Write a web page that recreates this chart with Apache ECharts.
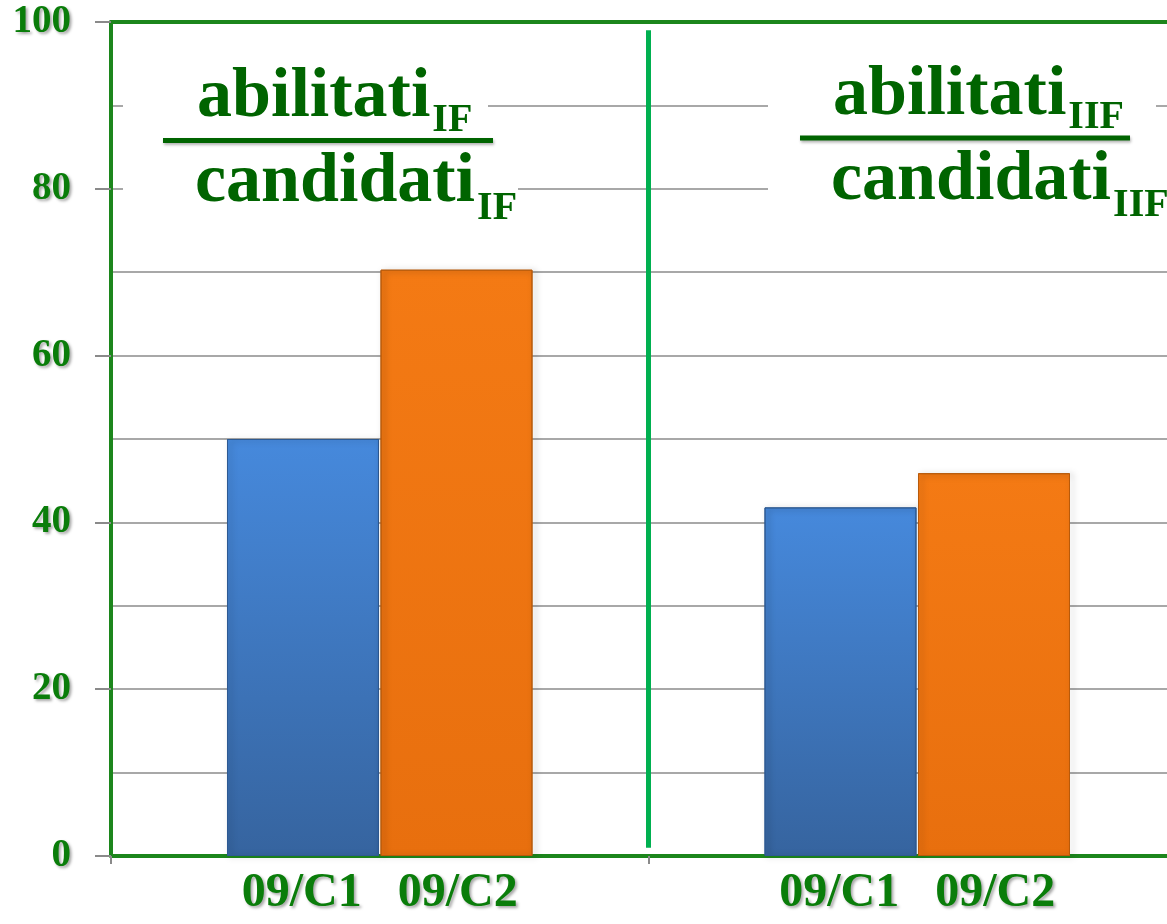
<!DOCTYPE html>
<html>
<head>
<meta charset="utf-8">
<script src="https://cdn.jsdelivr.net/npm/echarts@6/dist/echarts.min.js"></script>
<style>
html,body{margin:0;padding:0;background:#fff;overflow:hidden;width:1167px;height:924px;}
#chart{width:1188px;height:924px;}
</style>
</head>
<body>
<div id="chart"></div>
<script>
// ---- data ----
const categories = ['IF', 'IIF'];
const seriesNames = ['09/C1', '09/C2'];
const c1Values = [50, 41.8];
const c2Values = [70.3, 45.9];
const xTickLabels = ['09/C1   09/C2', '09/C1   09/C2'];
const yTickValues = [0, 20, 40, 60, 80, 100];
const numerators = ['abilitati', 'abilitati'];
const denominators = ['candidati', 'candidati'];
const subscripts = ['IF', 'IIF'];

const chart = echarts.init(document.getElementById('chart'), null, {renderer: 'canvas'});

const labelGreen = '#0a7d0a';
const titleGreen = '#006400';
const frameGreen = '#1c861c';
const shadowText = {textShadowColor: 'rgba(0,0,0,0.35)', textShadowBlur: 3, textShadowOffsetX: 2, textShadowOffsetY: 2};

function barStyle(top, bottom, border) {
  return {
    color: new echarts.graphic.LinearGradient(0, 0, 0, 1, [
      {offset: 0, color: top}, {offset: 1, color: bottom}
    ]),
    borderColor: border, borderWidth: 1,
    shadowColor: 'rgba(0,0,0,0.35)', shadowBlur: 6, shadowOffsetX: 3, shadowOffsetY: 1
  };
}

const option = {
  animation: false,
  backgroundColor: '#ffffff',
  grid: {left: 111, top: 22, right: 2, bottom: 68, containLabel: false},
  xAxis: [{
    type: 'category',
    data: categories,
    boundaryGap: true,
    axisLine: {show: true, lineStyle: {color: frameGreen, width: 4}},
    axisTick: {show: true, length: 8, lineStyle: {color: '#8a8a8a', width: 2}},
    axisLabel: {
      formatter: (v, i) => xTickLabels[i],
      color: labelGreen, fontFamily: '"Liberation Serif", serif', fontWeight: 'bold', fontSize: 48,
      margin: 14, ...shadowText
    },
    splitLine: {show: false}
  }, {
    type: 'category',
    data: categories,
    position: 'top',
    axisLine: {show: true, lineStyle: {color: frameGreen, width: 4}},
    axisTick: {show: false},
    axisLabel: {show: false},
    splitLine: {show: false}
  }],
  yAxis: {
    type: 'value',
    min: 0, max: 100, interval: 20,
    axisLine: {show: true, lineStyle: {color: frameGreen, width: 4}},
    axisTick: {show: true, length: 16, lineStyle: {color: '#8a8a8a', width: 2}},
    axisLabel: {
      formatter: v => (yTickValues.indexOf(v) >= 0 ? String(v) : ''),
      color: labelGreen, fontFamily: '"Liberation Serif", serif', fontWeight: 'bold', fontSize: 39,
      margin: 40, ...shadowText
    },
    splitLine: {show: true, showMinLine: false, showMaxLine: false, lineStyle: {color: '#a8a8a8', width: 2}},
    minorTick: {show: false, splitNumber: 2},
    minorSplitLine: {show: true, lineStyle: {color: '#a8a8a8', width: 2}}
  },
  series: [{
    name: seriesNames[0], type: 'bar', data: c1Values,
    barWidth: 152, barGap: '1%',
    itemStyle: barStyle('#4689dc', '#36649f', '#2e5a92')
  }, {
    name: seriesNames[1], type: 'bar', data: c2Values,
    barWidth: 152, barGap: '1%',
    itemStyle: barStyle('#f47a14', '#e86f0e', '#b85a0a')
  }]
};
chart.setOption(option);

// ---- fraction titles and separator ----
const mctx = document.createElement('canvas').getContext('2d');
function textWidth(t, font) { mctx.font = font; return mctx.measureText(t).width; }
const bigSize = 70, subSize = 40;
const fam = '"Liberation Serif", serif';
const bigFont = 'bold ' + bigSize + 'px ' + fam;
const subFont = 'bold ' + subSize + 'px ' + fam;
const bigMid = 0.24 * bigSize, subMid = 0.29 * subSize;

const blocks = [
  {x: 197, numBase: 115, subNumBase: 132, lineY: 140.5, lineX1: 163, lineX2: 493, denBase: 200, subDenBase: 220,
   rects: [[123, 58, 365, 74], [123, 132, 395, 96]]},
  {x: 833, numBase: 113, subNumBase: 129, lineY: 138, lineX1: 800, lineX2: 1130, denBase: 198, subDenBase: 217,
   rects: [[768, 58, 388, 74], [768, 132, 420, 96]]}
];

const graphics = [];
blocks.forEach((b, i) => {
  b.rects.forEach(r => graphics.push({
    type: 'rect', shape: {x: r[0], y: r[1], width: r[2], height: r[3]},
    style: {fill: '#ffffff'}, z: 10, silent: true
  }));
  const wNum = textWidth(numerators[i], bigFont);
  const wDen = textWidth(denominators[i], bigFont);
  const common = {fill: titleGreen, textVerticalAlign: 'middle', verticalAlign: 'middle', align: 'left',
    shadowColor: 'rgba(0,0,0,0.35)', shadowBlur: 4, shadowOffsetX: 2, shadowOffsetY: 2};
  graphics.push({type: 'text', x: b.x, y: b.numBase - bigMid, z: 11,
    style: Object.assign({}, common, {text: numerators[i], font: bigFont})});
  graphics.push({type: 'text', x: b.x + wNum + 2, y: b.subNumBase - subMid, z: 11,
    style: Object.assign({}, common, {text: subscripts[i], font: subFont})});
  graphics.push({type: 'line', shape: {x1: b.lineX1, y1: b.lineY, x2: b.lineX2, y2: b.lineY}, z: 11,
    style: {stroke: titleGreen, lineWidth: 5, shadowColor: 'rgba(0,0,0,0.3)', shadowBlur: 3, shadowOffsetX: 1, shadowOffsetY: 2}});
  graphics.push({type: 'text', x: b.x - 2, y: b.denBase - bigMid, z: 11,
    style: Object.assign({}, common, {text: denominators[i], font: bigFont})});
  graphics.push({type: 'text', x: b.x - 2 + wDen + 2, y: b.subDenBase - subMid, z: 11,
    style: Object.assign({}, common, {text: subscripts[i], font: subFont})});
});

// separator between the two categories, computed from the axis scale
const p0 = chart.convertToPixel({xAxisIndex: 0, yAxisIndex: 0}, [0, 99]);
const p1 = chart.convertToPixel({xAxisIndex: 0, yAxisIndex: 0}, [1, 1]);
const sepX = (p0[0] + p1[0]) / 2;
graphics.push({type: 'line', shape: {x1: sepX, y1: p0[1], x2: sepX, y2: p1[1]}, z: 12,
  style: {stroke: '#00b050', lineWidth: 5}});

chart.setOption({graphic: graphics});
</script>
</body>
</html>
